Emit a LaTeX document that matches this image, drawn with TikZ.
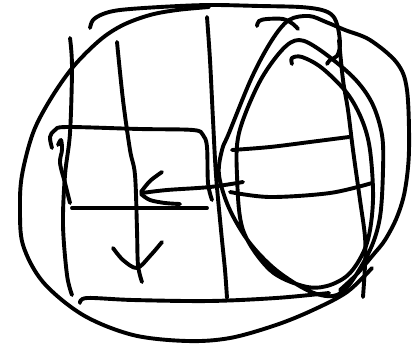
\documentclass[tikz,border=0pt]{standalone}
\begin{document}
\begin{tikzpicture}[x=1pt,y=-1pt,
  pen/.style={line width=3.9pt,line cap=round,line join=round}]
\useasboundingbox (0,0) rectangle (418,349);
\tikzset{every plot/.style={smooth,tension=0.55}}
% top line with hook
\draw[pen] plot coordinates {(90,28) (93,20) (103,14) (120,10) (160,7) (209,5) (260,6) (300,7) (322,10) (333,16) (338,28) (340,45) (337,56) (330,60) (327,64)};
% right side of square
\draw[pen] plot coordinates {(339,40) (343,80) (348,110) (353,150) (360,200) (365,237) (365,265) (363,297)};
% outer circle
\draw[pen] plot coordinates {(209,7) (177,10) (150,15) (123,25) (100,40) (73,67) (50,100) (33,133) (22,175) (20,208) (23,245) (43,282) (83,315) (133,335) (187,341) (230,338) (276,325) (313,310) (347,292) (372,268)};
% spiral of ellipses
\draw[pen] plot coordinates {(292,64) (292,58) (302,57) (322,68) (347,93) (362,120) (370,150) (373,200) (367,243) (350,273) (327,286) (303,286) (270,270) (243,230) (237,175) (239,133) (259,83) (282,50) (299,40) (320,50) (353,77) (372,103) (382,135) (383,170) (380,217) (370,250) (349,285) (333,296) (309,291) (276,270) (249,242) (229,208) (219,175) (222,150) (229,133) (252,77) (272,40) (289,20) (309,16) (326,22) (345,30) (370,40) (397,63) (407,90) (409,150) (405,190) (397,217) (385,240) (373,255) (356,275) (340,290)};
% short hook at top
\draw[pen] plot coordinates {(257,26) (259,21) (267,19) (283,19) (293,24) (298,29)};
% left vertical
\draw[pen] plot coordinates {(70,38) (72,67) (70,133) (65,175) (63,225) (67,275) (72,295)};
% second vertical with arrow head
\draw[pen] plot coordinates {(117,42) (123,100) (130,150) (135,175) (137,230) (138,265) (142,282)};
\draw[pen] plot coordinates {(113,248) (123,260) (137,268) (150,256) (162,242)};
% third vertical
\draw[pen] plot coordinates {(207,17) (210,60) (213,120) (216,175) (221,230) (225,270) (227,298)};
% inner rectangle top and right
\draw[pen] plot coordinates {(52,148) (50,137) (55,130) (67,127) (140,129) (193,130) (203,135) (207,147) (208,183) (212,200)};
% curl on left
\draw[pen] plot coordinates {(58,145) (61,140) (62,150) (60,163) (65,183) (70,203)};
% horizontal line
\draw[pen] plot coordinates {(72,208) (140,208) (207,208)};
% arrow pointing left
\draw[pen] plot coordinates {(243,182) (210,187) (167,190) (142,193)};
\draw[pen] plot coordinates {(162,172) (150,181) (141,192)};
\draw[pen] plot coordinates {(141,194) (150,200) (165,203) (180,204)};
% horizontal lines in the ellipse
\draw[pen] plot coordinates {(232,150) (270,147) (310,142) (349,137)};
\draw[pen] plot coordinates {(230,192) (270,197) (330,193) (372,183)};
% bottom line of square
\draw[pen] plot coordinates {(80,303) (87,298) (133,300) (209,301) (276,298) (329,293)};
\end{tikzpicture}
\end{document}
